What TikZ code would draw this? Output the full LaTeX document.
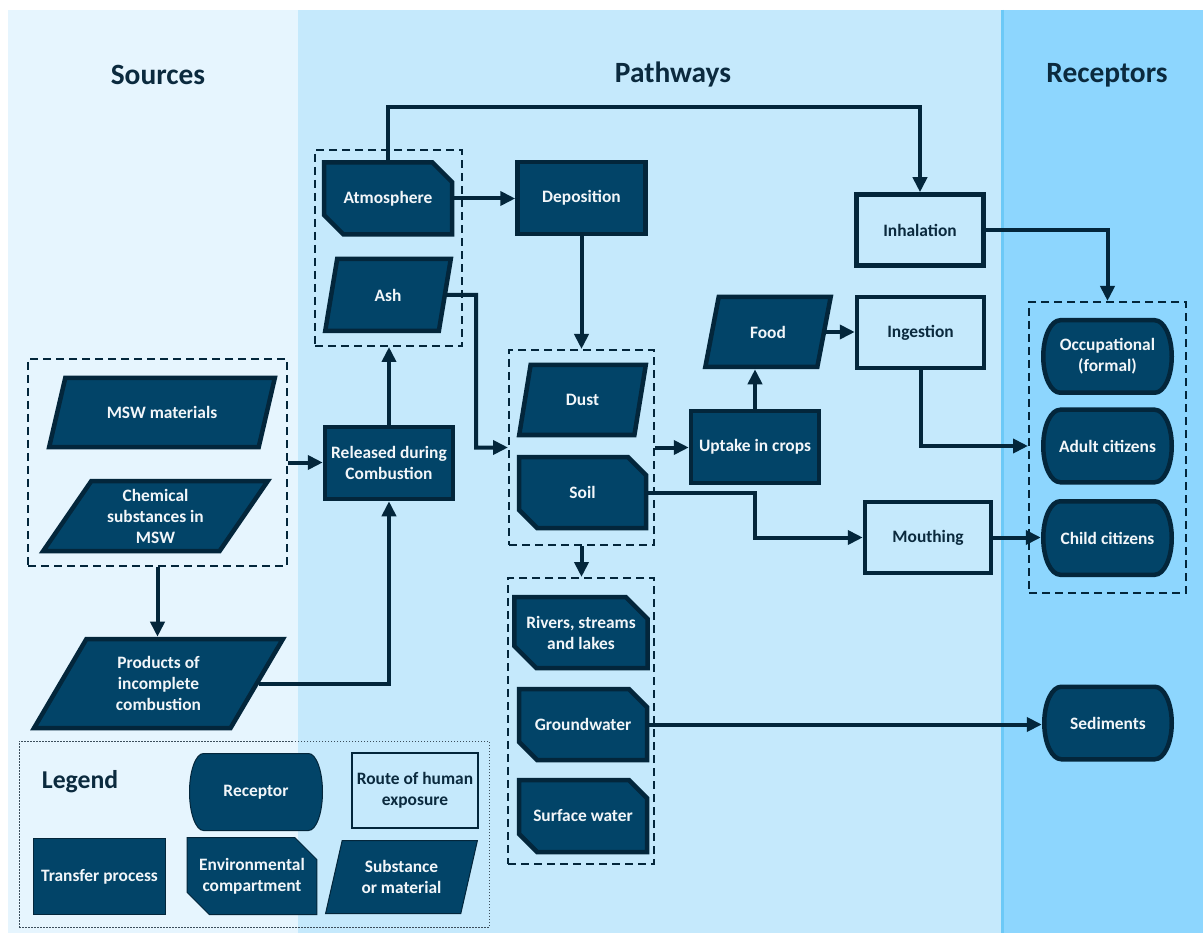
\documentclass[tikz,border=0pt]{standalone}
\usepackage{fontspec}
\setmainfont{Carlito}
\usetikzlibrary{shapes.geometric,shapes.misc,arrows.meta}

\definecolor{srcbg}{HTML}{E6F5FE}
\definecolor{pathbg}{HTML}{C5E9FC}
\definecolor{recbg}{HTML}{8DD6FE}
\definecolor{sepline}{HTML}{6CC9F7}
\definecolor{nodefill}{HTML}{024468}
\definecolor{edge}{HTML}{03263B}
\definecolor{ink}{HTML}{0B2A3E}
\definecolor{paper}{HTML}{F2F6F9}
\definecolor{legline}{HTML}{3C4E5C}

\pgfdeclarelayer{panel}
\pgfdeclarelayer{shape}
\pgfsetlayers{panel,shape,main}

\tikzset{
  nodefont/.style={font=\fontsize{17.4}{21}\selectfont\bfseries, align=center},
  base/.style={nodefont, line width=4.5pt, draw=edge, fill=nodefill, text=paper,
    inner sep=1pt},
  transfer/.style={base, rectangle, minimum width=128pt, minimum height=72pt},
  route/.style={base, rectangle, fill=pathbg, text=ink,
    minimum width=127pt, minimum height=71pt},
  envbox/.style={base, chamfered rectangle,
    chamfered rectangle corners={north east,south west},
    chamfered rectangle xsep=11pt, chamfered rectangle ysep=11pt,
    minimum width=128pt, minimum height=72pt},
  receptor/.style={nodefont, rectangle, text=paper, inner sep=1pt,
    minimum width=133pt, minimum height=77pt},
  recshape/.style={fill=nodefill, draw=edge, line width=#1},
  subst/.style n args={2}{base, trapezium, trapezium left angle=#1,
    trapezium right angle=#2, trapezium stretches=true},
  grp/.style={rectangle, draw=edge, line width=2pt, dash pattern=on 8pt off 5pt,
    inner sep=0pt},
  conn/.style={draw=edge, line width=4pt, -{Triangle[length=15pt,width=14pt]}},
  header/.style={font=\fontsize{29.4}{34}\selectfont\bfseries, text=ink},
  thin/.style={line width=1pt},
}

% receptor outline: flat top and bottom, half-ellipse sides,
% drawn beneath the named node
% #1 node, #2 half width, #3 half height, #4 side radius, #5 line width
\newcommand\receptoroutline[5]{%
  \begin{pgfonlayer}{shape}
  \path[recshape=#5, shift={(#1.center)}]
    ({-#2+#4},{-#3}) -- ({#2-#4},{-#3})
    arc[start angle=-90, end angle=90, x radius=#4, y radius=#3]
    -- ({-#2+#4},{#3})
    arc[start angle=90, end angle=270, x radius=#4, y radius=#3]
    -- cycle;
  \end{pgfonlayer}}

\begin{document}
\begin{tikzpicture}[x=1pt,y=-1pt]
\useasboundingbox (0,0) rectangle (1203,933);

% three columns
\begin{pgfonlayer}{panel}
\fill[white] (0,0) rectangle (1203,933);
\fill[srcbg]  (8,10) rectangle (298,933);
\fill[pathbg] (298,10) rectangle (1002,933);
\fill[recbg]  (1002,10) rectangle (1203,933);
\draw[sepline, line width=3pt] (1002.5,10) -- (1002.5,933);
\end{pgfonlayer}

\node[header] (hsrc) at (158,75) {Sources};
\node[header] (hpath) at (673,75) {Pathways};
\node[header] (hrec) at (1107,75) {Receptors};

% groups
\node[grp, minimum width=259pt, minimum height=207pt] (gSrc) at (157.5,462.5) {};
\node[grp, minimum width=147pt, minimum height=196pt] (gAir) at (388.5,248) {};
\node[grp, minimum width=145pt, minimum height=195pt] (gSoil) at (581.5,447.5) {};
\node[grp, minimum width=146pt, minimum height=286pt] (gWat) at (581,721) {};
\node[grp, minimum width=157pt, minimum height=291pt] (gRec) at (1107.5,447.5) {};

% sources
\node[subst={56.9}{123.1}, minimum width=226pt, minimum height=69pt] (msw) at (162,412.5) {MSW materials};
\node[subst={56.7}{123.3}, minimum width=225pt, minimum height=70pt] (chem) at (155.5,516) {Chemical\\substances in\\MSW};
\node[subst={60.7}{119.3}, minimum width=249pt, minimum height=89pt] (prod) at (158.5,683.5) {Products of\\incomplete\\combustion};

% pathways
\node[transfer] (rel) at (389,463) {Released during\\Combustion};
\node[envbox] (atm) at (388,198.5) {Atmosphere};
\node[subst={76.7}{103.3}, minimum width=126pt, minimum height=72pt] (ash) at (388,295) {Ash};
\node[transfer] (dep) at (581.5,198) {Deposition};
\node[route] (inh) at (920,230) {Inhalation};
\node[subst={74}{106}, minimum width=127pt, minimum height=70pt] (dust) at (582.5,400) {Dust};
\node[envbox, minimum width=127pt, minimum height=71pt] (soil) at (582.5,492.5) {Soil};
\node[transfer] (upt) at (755,447) {Uptake in crops};
\node[subst={70.3}{109.7}, minimum width=126pt, minimum height=70pt] (food) at (768,332) {Food};
\node[route] (ing) at (920.5,332.5) {Ingestion};
\node[route, minimum width=126pt] (mouth) at (928,537.5) {Mouthing};
\node[envbox, minimum height=71pt] (riv) at (581,632.5) {Rivers, streams\\and lakes};
\node[envbox, minimum height=71pt] (gw) at (583,724.5) {Groundwater};
\node[envbox] (sw) at (583,816) {Surface water};

% receptors
\node[receptor] (occ) at (1107.5,356.5) {Occupational\\(formal)};
\node[receptor] (adult) at (1107.5,446) {Adult citizens};
\node[receptor, minimum height=78pt] (child) at (1107.5,538) {Child citizens};
\node[receptor, minimum width=132pt] (sed) at (1108,723) {Sediments};
\receptoroutline{occ}{64.25}{36.25}{17}{4.5pt}
\receptoroutline{adult}{64.25}{36.25}{17}{4.5pt}
\receptoroutline{child}{64.25}{36.75}{17}{4.5pt}
\receptoroutline{sed}{63.75}{36.25}{17}{4.5pt}

% connectors
\draw[conn] (gSrc.east) -- (gSrc.east -| rel.west);
\draw[conn] (gSrc.south) -- (gSrc.south |- prod.north);
\draw[conn] (prod.east) -| (rel.south);
\draw[conn] (rel.north) -- (rel.north |- gAir.south);
\draw[conn] (atm.north) -- ++(0,-53) -| (inh.north);
\draw[conn] (atm.east) -- (atm.east -| dep.west);
\coordinate (ashturn) at (476,295);
\draw[conn] (ash.east) -- (ashturn) |- (gSoil.west);
\draw[conn] (dep.south) -- (dep.south |- gSoil.north);
\draw[conn] (gSoil.east) -- (gSoil.east -| upt.west);
\draw[conn] (upt.north) -- (upt.north |- food.south);
\draw[conn] (food.east) -- (food.east -| ing.west);
\draw[conn] (inh.east) -| (gRec.north);
\draw[conn] (ing.south) |- (gRec.west |- adult.west);
\coordinate (soilturn) at (upt.south |- soil.east);
\draw[conn] (soil.east) -- (soilturn) |- (mouth.west);
\draw[conn] (mouth.east) -- (mouth.east -| child.west);
\draw[conn] (gSoil.south) -- (gSoil.south |- gWat.north);
\draw[conn] (gw.east) -- (gw.east -| sed.west);

% legend
\node[rectangle, draw=legline, line width=1pt, dash pattern=on 1.5pt off 1.5pt,
  minimum width=470pt, minimum height=186pt, inner sep=0pt] (leg) at (254,834) {};
\node[font=\fontsize{25.7}{30}\selectfont\bfseries, text=ink] (legt) at (80,782) {Legend};
\node[receptor, minimum width=134pt, minimum height=78pt] (lrec) at (256,792) {Receptor};
\receptoroutline{lrec}{66.5}{38.5}{14}{1pt}
\node[route, line width=2pt, minimum width=126pt, minimum height=75pt] (lroute) at (415,790.5) {Route of human\\exposure};
\node[transfer, thin, minimum width=132pt, minimum height=76pt] (ltr) at (99.5,876.5) {Transfer process};
\node[envbox, thin, minimum width=125pt, minimum height=77pt] (lenv) at (252,876) {Environmental\\compartment};
\node[subst={72}{108}, thin, minimum width=152pt, minimum height=73pt] (lsub) at (401.5,877) {Substance\\or material};
\end{tikzpicture}
\end{document}
